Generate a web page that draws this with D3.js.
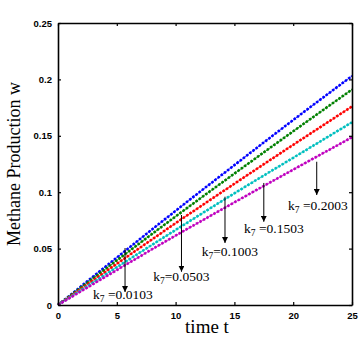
<!DOCTYPE html>
<html>
<head>
<meta charset="utf-8">
<script src="https://cdn.jsdelivr.net/npm/d3@7"></script>
<style>
  body { margin: 0; background: #fff; }
  svg { display: block; }
</style>
</head>
<body>
<svg id="chart"></svg>
<script>
// time points and methane production per k7 value
const times = [0, 5, 10, 15, 20, 25];
const seriesNames = ['k7=0.0103', 'k7=0.0503', 'k7=0.1003', 'k7=0.1503', 'k7=0.2003'];
const wK0103 = [0, 0.0420, 0.0835, 0.1240, 0.1640, 0.2030];
const wK0503 = [0, 0.0395, 0.0785, 0.1165, 0.1540, 0.1910];
const wK1003 = [0, 0.0365, 0.0725, 0.1075, 0.1420, 0.1760];
const wK1503 = [0, 0.0335, 0.0665, 0.0990, 0.1305, 0.1620];
const wK2003 = [0, 0.0310, 0.0615, 0.0910, 0.1200, 0.1487];
const colors = ['#0000ff', '#008000', '#ff0000', '#00bfbf', '#bf00bf'];

const xTicks = [0, 5, 10, 15, 20, 25];
const yTicks = [0, 0.05, 0.1, 0.15, 0.2, 0.25];

// annotation arrows: t position, from / to (w), label anchor (t, w)
const annValue = ['0.0103', '0.0503', '0.1003', '0.1503', '0.2003'];
const annSpace = [true, false, false, true, true];
const annT = [5.7, 10.5, 14.2, 17.5, 22.0];
const annFrom = [0.0505, 0.0798, 0.0960, 0.1082, 0.1270];
const annTo = [0.0115, 0.0295, 0.0550, 0.0738, 0.0975];
const labelT = [2.98, 8.10, 12.22, 15.82, 19.56];
const labelW = [0.0053, 0.0215, 0.0434, 0.0641, 0.0842];

const W = 364, H = 341;
const M = {left: 58, right: 12, top: 23, bottom: 36};

const svg = d3.select('#chart').attr('width', W).attr('height', H);
svg.append('rect').attr('width', W).attr('height', H).attr('fill', '#fff');

const x = d3.scaleLinear().domain([0, 25]).range([M.left, W - M.right]);
const y = d3.scaleLinear().domain([0, 0.25]).range([H - M.bottom, M.top]);

const series = [wK0103, wK0503, wK1003, wK1503, wK2003].map((vals, i) => ({
  name: seriesNames[i],
  color: colors[i],
  points: times.map((t, j) => ({t: t, w: vals[j]}))
}));

const line = d3.line().x(d => x(d.t)).y(d => y(d.w)).curve(d3.curveMonotoneX);

// lines (thin line + dense marker dashes)
const g = svg.append('g');
series.forEach(s => {
  g.append('path').attr('d', line(s.points))
    .attr('fill', 'none').attr('stroke', s.color).attr('stroke-width', 0.8);
  g.append('path').attr('d', line(s.points))
    .attr('fill', 'none').attr('stroke', s.color).attr('stroke-width', 2.6)
    .attr('stroke-dasharray', '2.4,1.6');
});

// frame + ticks
const bottomAxis = d3.axisBottom(x).tickValues(xTicks).tickSizeInner(-3).tickSizeOuter(0).tickPadding(7)
  .tickFormat(d3.format('d'));
const leftAxis = d3.axisLeft(y).tickValues(yTicks).tickSizeInner(-3).tickSizeOuter(0).tickPadding(6)
  .tickFormat(d => d === 0 ? '0' : d3.format('')(+d.toFixed(2)));
const topAxis = d3.axisTop(x).tickValues(xTicks).tickSizeInner(-3).tickSizeOuter(0).tickFormat('');
const rightAxis = d3.axisRight(y).tickValues(yTicks).tickSizeInner(-3).tickSizeOuter(0).tickFormat('');

function styleAxis(sel) {
  sel.selectAll('path.domain').attr('stroke', '#000').attr('stroke-width', 1.6);
  sel.selectAll('.tick line').attr('stroke', '#000').attr('stroke-width', 1.2);
  sel.selectAll('.tick text').attr('fill', '#000')
    .attr('font-family', 'Liberation Sans, Arial, sans-serif')
    .attr('font-weight', 'bold').attr('font-size', '9.5px');
}

svg.append('g').attr('transform', `translate(0,${H - M.bottom})`).call(bottomAxis).call(styleAxis);
svg.append('g').attr('transform', `translate(${M.left},0)`).call(leftAxis).call(styleAxis);
svg.append('g').attr('transform', `translate(0,${M.top})`).call(topAxis).call(styleAxis);
svg.append('g').attr('transform', `translate(${W - M.right},0)`).call(rightAxis).call(styleAxis);

// axis titles
svg.append('text')
  .attr('x', (x(0) + x(25)) / 2 + 2).attr('y', 333)
  .attr('text-anchor', 'middle')
  .attr('font-family', 'Liberation Serif, Times New Roman, serif')
  .attr('font-size', '19px')
  .text('time t');

svg.append('text')
  .attr('transform', `translate(20,${(y(0) + y(0.25)) / 2}) rotate(-90)`)
  .attr('text-anchor', 'middle')
  .attr('font-family', 'Liberation Serif, Times New Roman, serif')
  .attr('font-size', '18px')
  .text('Methane Production w');

// arrows + labels
svg.append('defs').append('marker')
  .attr('id', 'arrow').attr('viewBox', '0 0 10 10')
  .attr('refX', 10).attr('refY', 5)
  .attr('markerWidth', 6).attr('markerHeight', 6)
  .attr('markerUnits', 'userSpaceOnUse')
  .attr('orient', 'auto')
  .append('path').attr('d', 'M0,0L10,5L0,10Z').attr('fill', '#000');

const ann = svg.append('g');
annT.forEach((t, i) => {
  ann.append('line')
    .attr('x1', x(t)).attr('x2', x(t))
    .attr('y1', y(annFrom[i])).attr('y2', y(annTo[i]))
    .attr('stroke', '#000').attr('stroke-width', 1)
    .attr('marker-end', 'url(#arrow)');
  const txt = ann.append('text')
    .attr('x', x(labelT[i])).attr('y', y(labelW[i]))
    .attr('font-family', 'Liberation Serif, Times New Roman, serif')
    .attr('font-size', '13.5px');
  txt.append('tspan').text('k');
  txt.append('tspan').attr('font-size', '9.5px').attr('dy', 3).text('7');
  txt.append('tspan').attr('dy', -3).text((annSpace[i] ? ' ' : '') + '=' + annValue[i]);
});
</script>
</body>
</html>
